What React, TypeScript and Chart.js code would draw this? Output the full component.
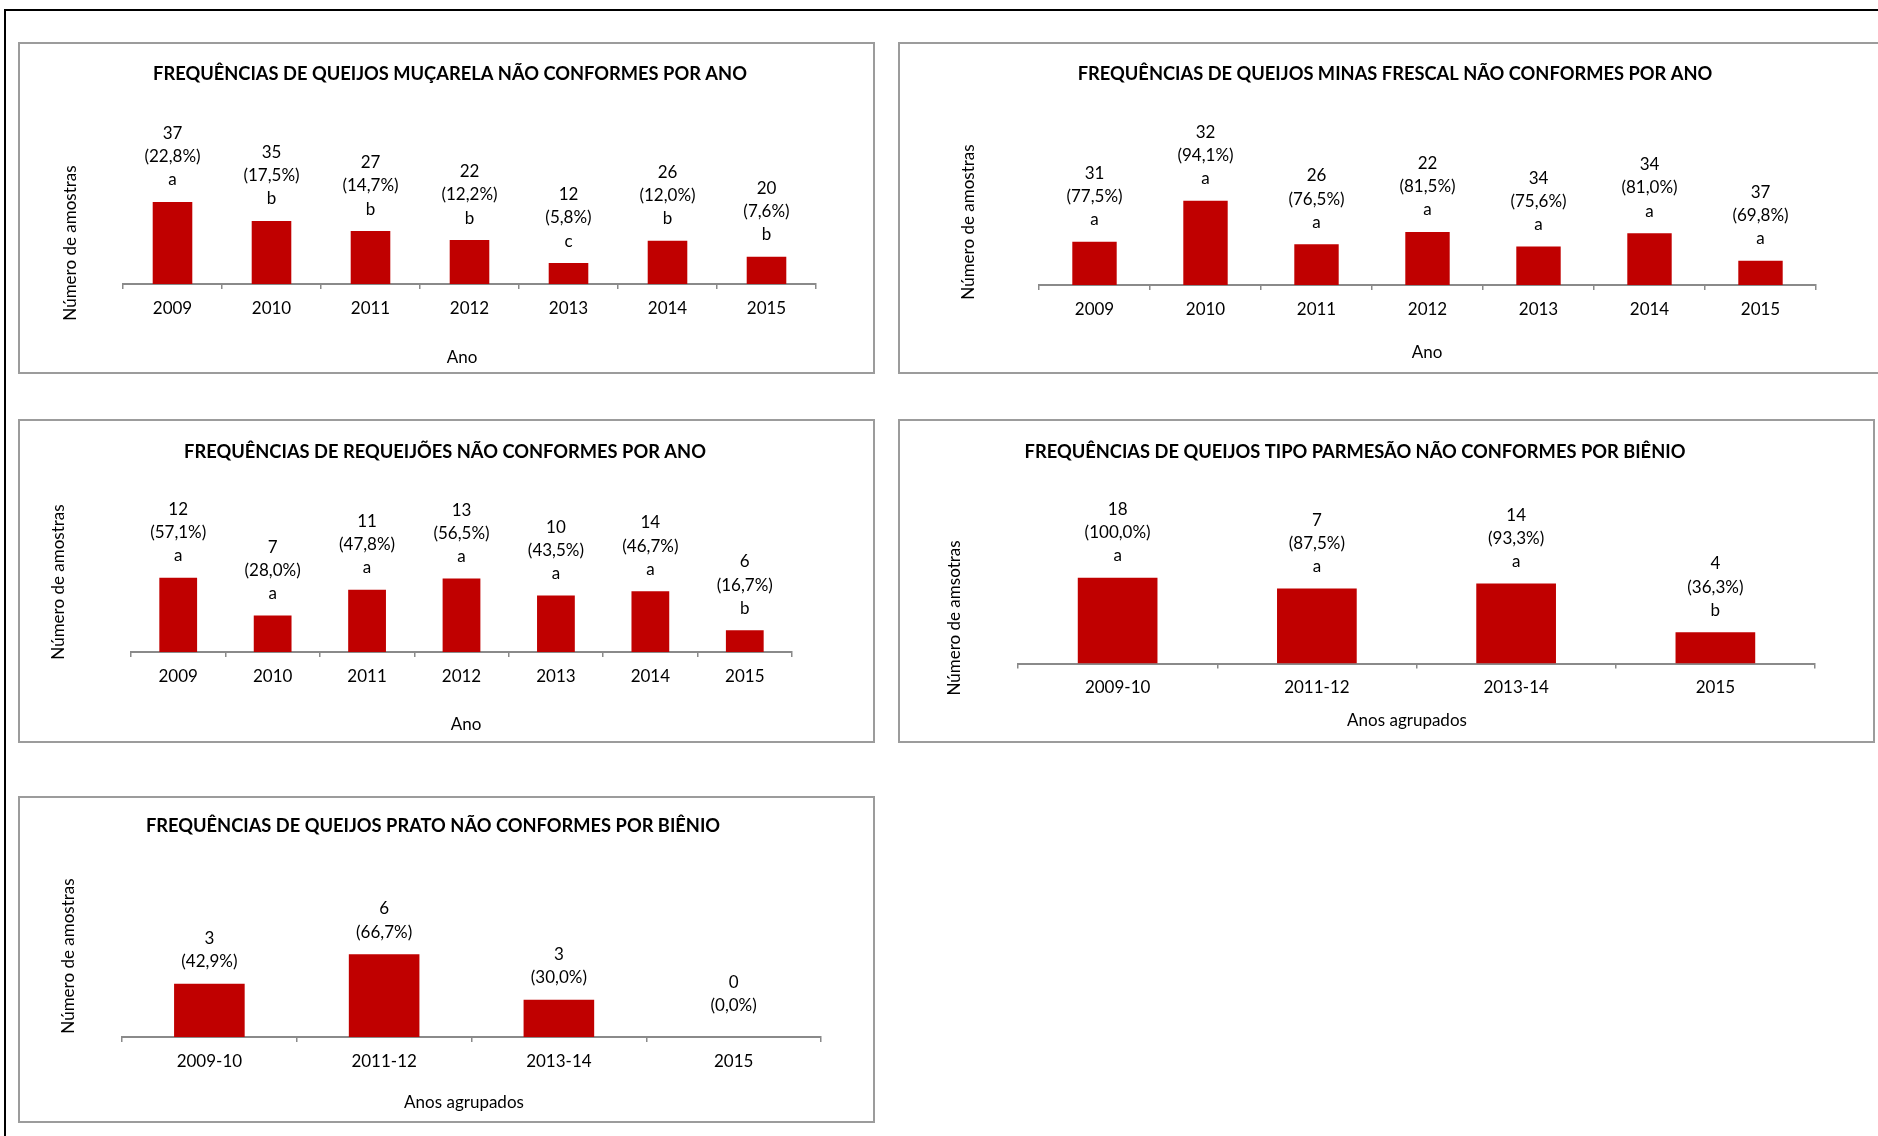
import React, { useEffect, useRef } from "react";
import { Chart, registerables } from "chart.js";

Chart.register(...registerables);

// ---------- DATA ----------
const yearCategories = ["2009", "2010", "2011", "2012", "2013", "2014", "2015"];
const bienioCategories = ["2009-10", "2011-12", "2013-14", "2015"];

const mucarelaCounts = [37, 35, 27, 22, 12, 26, 20];
const mucarelaPercent = [22.8, 17.5, 14.7, 12.2, 5.8, 12.0, 7.6];
const mucarelaLetters = ["a", "b", "b", "b", "c", "b", "b"];

const minasCounts = [31, 32, 26, 22, 34, 34, 37];
const minasPercent = [77.5, 94.1, 76.5, 81.5, 75.6, 81.0, 69.8];
const minasLetters = ["a", "a", "a", "a", "a", "a", "a"];

const requeijaoCounts = [12, 7, 11, 13, 10, 14, 6];
const requeijaoPercent = [57.1, 28.0, 47.8, 56.5, 43.5, 46.7, 16.7];
const requeijaoLetters = ["a", "a", "a", "a", "a", "a", "b"];

const parmesaoCounts = [18, 7, 14, 4];
const parmesaoPercent = [100.0, 87.5, 93.3, 36.3];
const parmesaoLetters = ["a", "a", "a", "b"];

const pratoCounts = [3, 6, 3, 0];
const pratoPercent = [42.9, 66.7, 30.0, 0.0];

// ---------- STYLE ----------
const BAR_COLOR = "#C00000";
const AXIS_COLOR = "#8a8a8a";
const PANEL_BORDER = "#9c9c9c";
const FONT = "Lato";
const TEXT_SIZE = 17;
const TITLE_SIZE = 18.3;
const YTITLE_SIZE = 17;
const BORDER = 2;

type PanelSpec = {
  box: { left: number; top: number; width: number; height: number };
  plot: { left: number; right: number; top: number; bottom: number };
  categories: string[];
  values: number[];
  counts: number[];
  letters: string[] | null;
  yMin: number;
  yMax: number;
  title: string;
  titlePos: [number, number];
  xTitle: string;
  xTitlePos: [number, number];
  yTitle: string;
  yTitlePos: [number, number];
  barPct: number;
};

const panels: PanelSpec[] = [
  {
    box: { left: 18, top: 42, width: 857, height: 332 },
    plot: { left: 123, right: 816, top: 194, bottom: 284 },
    categories: yearCategories,
    values: mucarelaPercent,
    counts: mucarelaCounts,
    letters: mucarelaLetters,
    yMin: 0,
    yMax: 25,
    title: "FREQUÊNCIAS DE QUEIJOS MUÇARELA NÃO CONFORMES POR ANO",
    titlePos: [450, 74],
    xTitle: "Ano",
    xTitlePos: [462, 358],
    yTitle: "Número de amostras",
    yTitlePos: [71, 243],
    barPct: 0.4,
  },
  {
    box: { left: 898, top: 42, width: 1000, height: 332 },
    plot: { left: 1039, right: 1816, top: 186.2, bottom: 285 },
    categories: yearCategories,
    values: minasPercent,
    counts: minasCounts,
    letters: minasLetters,
    yMin: 60,
    yMax: 100,
    title: "FREQUÊNCIAS DE QUEIJOS MINAS FRESCAL NÃO CONFORMES POR ANO",
    titlePos: [1395, 74],
    xTitle: "Ano",
    xTitlePos: [1427, 353],
    yTitle: "Número de amostras",
    yTitlePos: [969, 222],
    barPct: 0.4,
  },
  {
    box: { left: 18, top: 419, width: 857, height: 324 },
    plot: { left: 131, right: 792, top: 574, bottom: 652 },
    categories: yearCategories,
    values: requeijaoPercent,
    counts: requeijaoCounts,
    letters: requeijaoLetters,
    yMin: 0,
    yMax: 60,
    title: "FREQUÊNCIAS DE REQUEIJÕES NÃO CONFORMES POR ANO",
    titlePos: [445, 452],
    xTitle: "Ano",
    xTitlePos: [466, 725],
    yTitle: "Número de amostras",
    yTitlePos: [59, 582],
    barPct: 0.4,
  },
  {
    box: { left: 898, top: 419, width: 977, height: 324 },
    plot: { left: 1018, right: 1815, top: 560.6, bottom: 663.5 },
    categories: bienioCategories,
    values: parmesaoPercent,
    counts: parmesaoCounts,
    letters: parmesaoLetters,
    yMin: 0,
    yMax: 120,
    title: "FREQUÊNCIAS DE QUEIJOS TIPO PARMESÃO NÃO CONFORMES POR BIÊNIO",
    titlePos: [1355, 452],
    xTitle: "Anos agrupados",
    xTitlePos: [1407, 721],
    yTitle: "Número de amsotras",
    yTitlePos: [955, 618],
    barPct: 0.4,
  },
  {
    box: { left: 18, top: 796, width: 857, height: 327 },
    plot: { left: 122, right: 821, top: 937.6, bottom: 1037 },
    categories: bienioCategories,
    values: pratoPercent,
    counts: pratoCounts,
    letters: null,
    yMin: 0,
    yMax: 80,
    title: "FREQUÊNCIAS DE QUEIJOS PRATO NÃO CONFORMES POR BIÊNIO",
    titlePos: [433, 826],
    xTitle: "Anos agrupados",
    xTitlePos: [464, 1103],
    yTitle: "Número de amostras",
    yTitlePos: [69, 956],
    barPct: 0.404,
  },
];

const X_AXIS_HEIGHT = 40;
const LABEL_GAP = 22;
const LABEL_MIN_ABOVE_BASE = 31;
const LABEL_LINE = 23.2;

function fmtPct(v: number) {
  return "(" + v.toFixed(1).replace(".", ",") + "%)";
}

function Panel({ spec }: { spec: PanelSpec }) {
  const ref = useRef<HTMLCanvasElement | null>(null);
  const cw = spec.box.width - 2 * BORDER;
  const ch = spec.box.height - 2 * BORDER;
  const ox = spec.box.left + BORDER;
  const oy = spec.box.top + BORDER;

  useEffect(() => {
    const canvas = ref.current;
    if (!canvas) return;
    const textPlugin = {
      id: "panelTexts",
      afterDraw(chart: any) {
        const ctx = chart.ctx as CanvasRenderingContext2D;
        ctx.save();
        ctx.fillStyle = "#000";
        // title
        ctx.font = `bold ${TITLE_SIZE}px ${FONT}`;
        ctx.textAlign = "center";
        ctx.textBaseline = "middle";
        ctx.fillText(spec.title, spec.titlePos[0] - ox, spec.titlePos[1] - oy);
        // x title
        ctx.font = `${TEXT_SIZE}px ${FONT}`;
        ctx.fillText(spec.xTitle, spec.xTitlePos[0] - ox, spec.xTitlePos[1] - oy);
        // y title
        ctx.save();
        ctx.translate(spec.yTitlePos[0] - ox, spec.yTitlePos[1] - oy);
        ctx.rotate(-Math.PI / 2);
        ctx.font = `${YTITLE_SIZE}px ${FONT}`;
        ctx.fillText(spec.yTitle, 0, 0);
        ctx.restore();
        // data labels above bars
        ctx.font = `${TEXT_SIZE}px ${FONT}`;
        const meta = chart.getDatasetMeta(0);
        meta.data.forEach((el: any, i: number) => {
          const lines = [String(spec.counts[i]), fmtPct(spec.values[i])];
          if (spec.letters) lines.push(spec.letters[i]);
          const n = lines.length;
          const bottomY = Math.min(el.y - LABEL_GAP, el.base - LABEL_MIN_ABOVE_BASE);
          lines.forEach((t, k) => {
            const fromBottom = n - 1 - k;
            ctx.fillText(t, el.x, bottomY - fromBottom * LABEL_LINE);
          });
        });
        ctx.restore();
      },
    };

    const chart = new Chart(canvas, {
      type: "bar",
      data: {
        labels: spec.categories,
        datasets: [
          {
            data: spec.values,
            backgroundColor: BAR_COLOR,
            borderWidth: 0,
            categoryPercentage: 1,
            barPercentage: spec.barPct,
          },
        ],
      },
      options: {
        responsive: false,
        animation: false,
        devicePixelRatio: 1,
        layout: {
          padding: {
            left: spec.plot.left - ox,
            right: ox + cw - spec.plot.right,
            top: spec.plot.top - oy,
            bottom: oy + ch - spec.plot.bottom - X_AXIS_HEIGHT,
          },
        },
        plugins: {
          legend: { display: false },
          title: { display: false },
          tooltip: { enabled: false },
        },
        scales: {
          x: {
            type: "category",
            offset: true,
            grid: {
              display: true,
              offset: true,
              drawOnChartArea: false,
              drawTicks: true,
              tickLength: 5,
              color: AXIS_COLOR,
              lineWidth: 1.5,
            },
            border: { display: true, color: AXIS_COLOR, width: 2 },
            ticks: {
              color: "#000",
              font: { family: FONT, size: TEXT_SIZE },
              padding: 9,
              maxRotation: 0,
              autoSkip: false,
            },
            afterFit(scale: any) {
              scale.height = X_AXIS_HEIGHT;
            },
          },
          y: {
            display: false,
            min: spec.yMin,
            max: spec.yMax,
          },
        },
      },
      plugins: [textPlugin],
    } as any);
    return () => chart.destroy();
  }, [spec]);

  return (
    <div
      style={{
        position: "absolute",
        left: spec.box.left,
        top: spec.box.top,
        width: spec.box.width,
        height: spec.box.height,
        border: `${BORDER}px solid ${PANEL_BORDER}`,
        boxSizing: "border-box",
        background: "#fff",
      }}
    >
      <canvas
        ref={ref}
        width={cw}
        height={ch}
        style={{ position: "absolute", left: 0, top: 0, width: cw, height: ch }}
      />
    </div>
  );
}

export default function App() {
  return (
    <div
      style={{
        position: "absolute",
        left: 0,
        top: 0,
        width: 1878,
        height: 1136,
        overflow: "hidden",
        background: "#fff",
      }}
    >
      <div
        style={{
          position: "absolute",
          left: 4,
          top: 9,
          width: 1900,
          height: 1200,
          borderTop: "2px solid #000",
          borderLeft: "2px solid #000",
        }}
      />
      {panels.map((p, i) => (
        <Panel key={i} spec={p} />
      ))}
    </div>
  );
}
